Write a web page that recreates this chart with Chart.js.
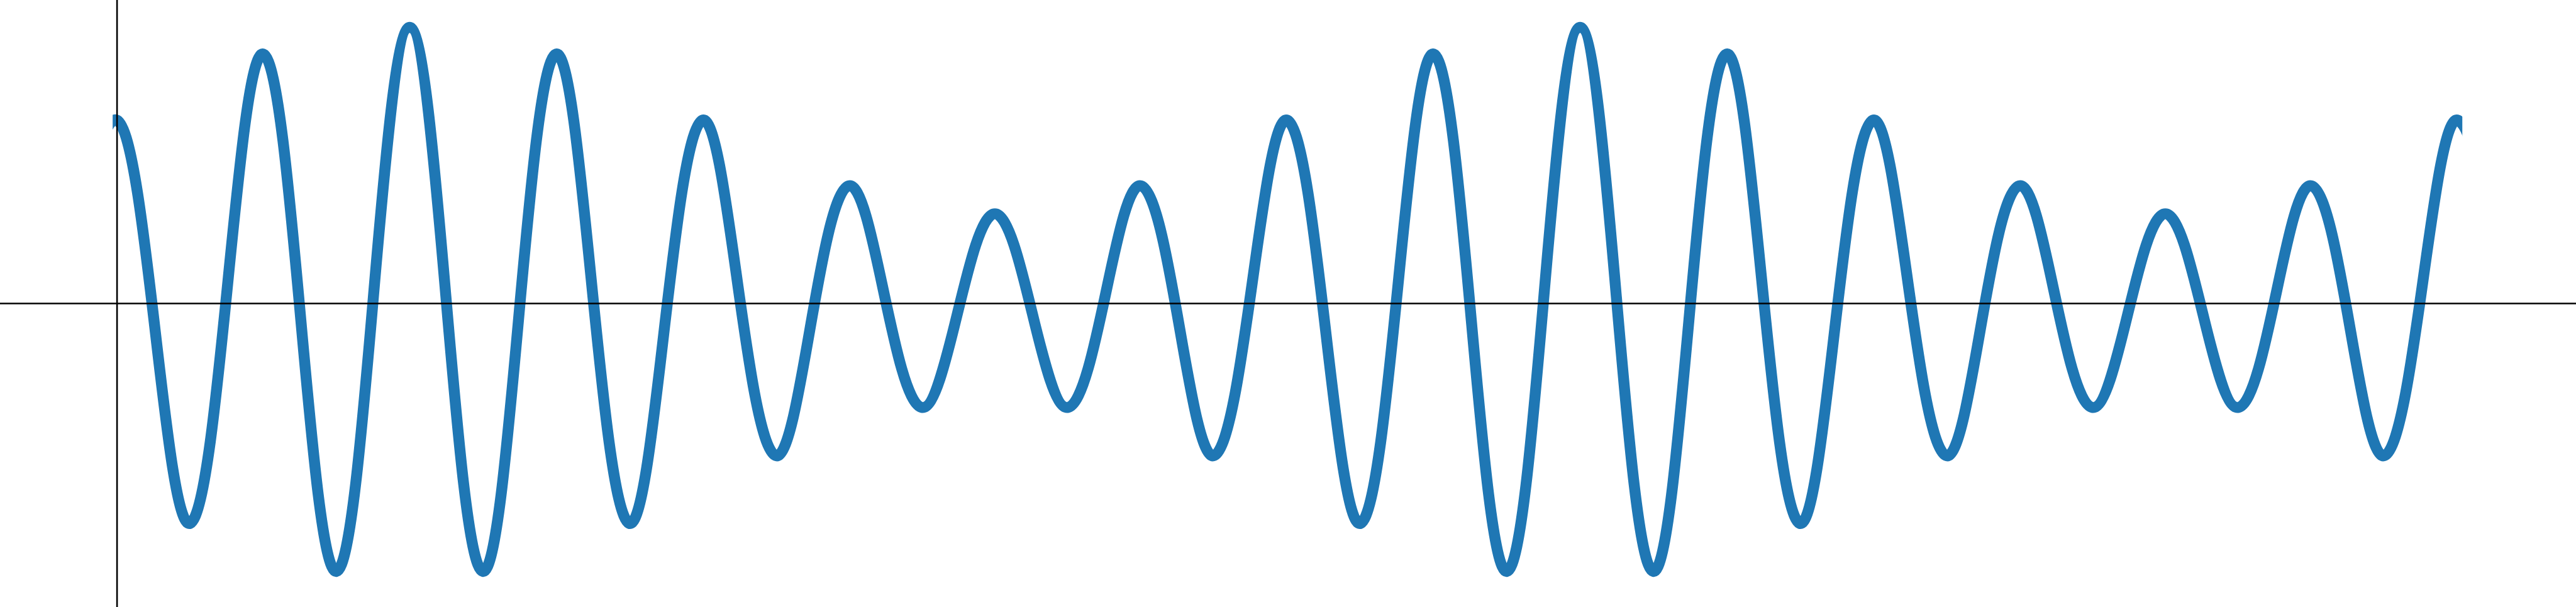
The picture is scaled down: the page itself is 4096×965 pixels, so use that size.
<!DOCTYPE html>
<html>
<head>
<meta charset="utf-8">
<script src="https://cdn.jsdelivr.net/npm/chart.js@4/dist/chart.umd.min.js"></script>
<style>
  html, body { margin: 0; padding: 0; background: #fff; }
  #wrap { width: 4096px; height: 965px; }
</style>
</head>
<body>
<div id="wrap"><canvas id="chart-area" width="4096" height="965"></canvas></div>
<script>
// wave: x in oscillation periods, y in plot units above the axis
// (the troughs at -0.5 and 16.5 lie outside the drawn stretch; they only shape the end crests)
var xValues = [-0.5, 0, 0.5, 1, 1.5, 2, 2.5, 3, 3.5, 4, 4.5, 5, 5.5, 6, 6.5, 7, 7.5,
	8, 8.5, 9, 9.5, 10, 10.5, 11, 11.5, 12, 12.5, 13, 13.5, 14, 14.5, 15, 15.5, 16, 16.5];
var yValues = [-278, 335, -402, 456, -490, 505, -490, 456, -402, 335, -278, 215, -190, 164, -190, 215, -278,
	335, -402, 456, -490, 505, -490, 456, -402, 335, -278, 215, -190, 164, -190, 215, -278, 335, -402];
// stretch of x where the curve is drawn
var drawnX = [-0.03, 16.03];

var xRange = [-0.8, 16.807];
var yRange = [-555, 555];

// only the drawn stretch of the curve is shown
var curveClip = {
	id: 'curveClip',
	beforeDatasetDraw: function(chart) {
		var ctx = chart.ctx;
		var left = chart.scales.x.getPixelForValue(drawnX[0]);
		var right = chart.scales.x.getPixelForValue(drawnX[1]);
		ctx.save();
		ctx.beginPath();
		ctx.rect(left, 0, right - left, chart.height);
		ctx.clip();
	},
	afterDatasetDraw: function(chart) {
		chart.ctx.restore();
	}
};

// black axis lines through zero, drawn over the curve
var zeroAxes = {
	id: 'zeroAxes',
	afterDatasetsDraw: function(chart) {
		var ctx = chart.ctx;
		var area = chart.chartArea;
		var x0 = chart.scales.x.getPixelForValue(0);
		var y0 = chart.scales.y.getPixelForValue(0);
		ctx.save();
		ctx.strokeStyle = '#000';
		ctx.lineWidth = 2.6;
		ctx.beginPath();
		ctx.moveTo(area.left, y0);
		ctx.lineTo(area.right, y0);
		ctx.moveTo(x0, area.top);
		ctx.lineTo(x0, area.bottom);
		ctx.stroke();
		ctx.restore();
	}
};

var points = xValues.map(function(x, i) { return { x: x, y: yValues[i] }; });

var config = {
	type: 'line',
	data: {
		datasets: [{
			data: points,
			borderColor: '#1f77b4',
			borderWidth: 17.4,
			borderJoinStyle: 'round',
			borderCapStyle: 'butt',
			pointRadius: 0,
			fill: false,
			tension: 0.36
		}]
	},
	options: {
		responsive: false,
		animation: false,
		layout: { padding: 0 },
		plugins: { legend: { display: false }, tooltip: { enabled: false } },
		scales: {
			x: { type: 'linear', display: false, min: xRange[0], max: xRange[1] },
			y: { type: 'linear', display: false, min: yRange[0], max: yRange[1] }
		}
	},
	plugins: [curveClip, zeroAxes]
};

var ctx = document.getElementById('chart-area').getContext('2d');
window.myWave = new Chart(ctx, config);
</script>
</body>
</html>
